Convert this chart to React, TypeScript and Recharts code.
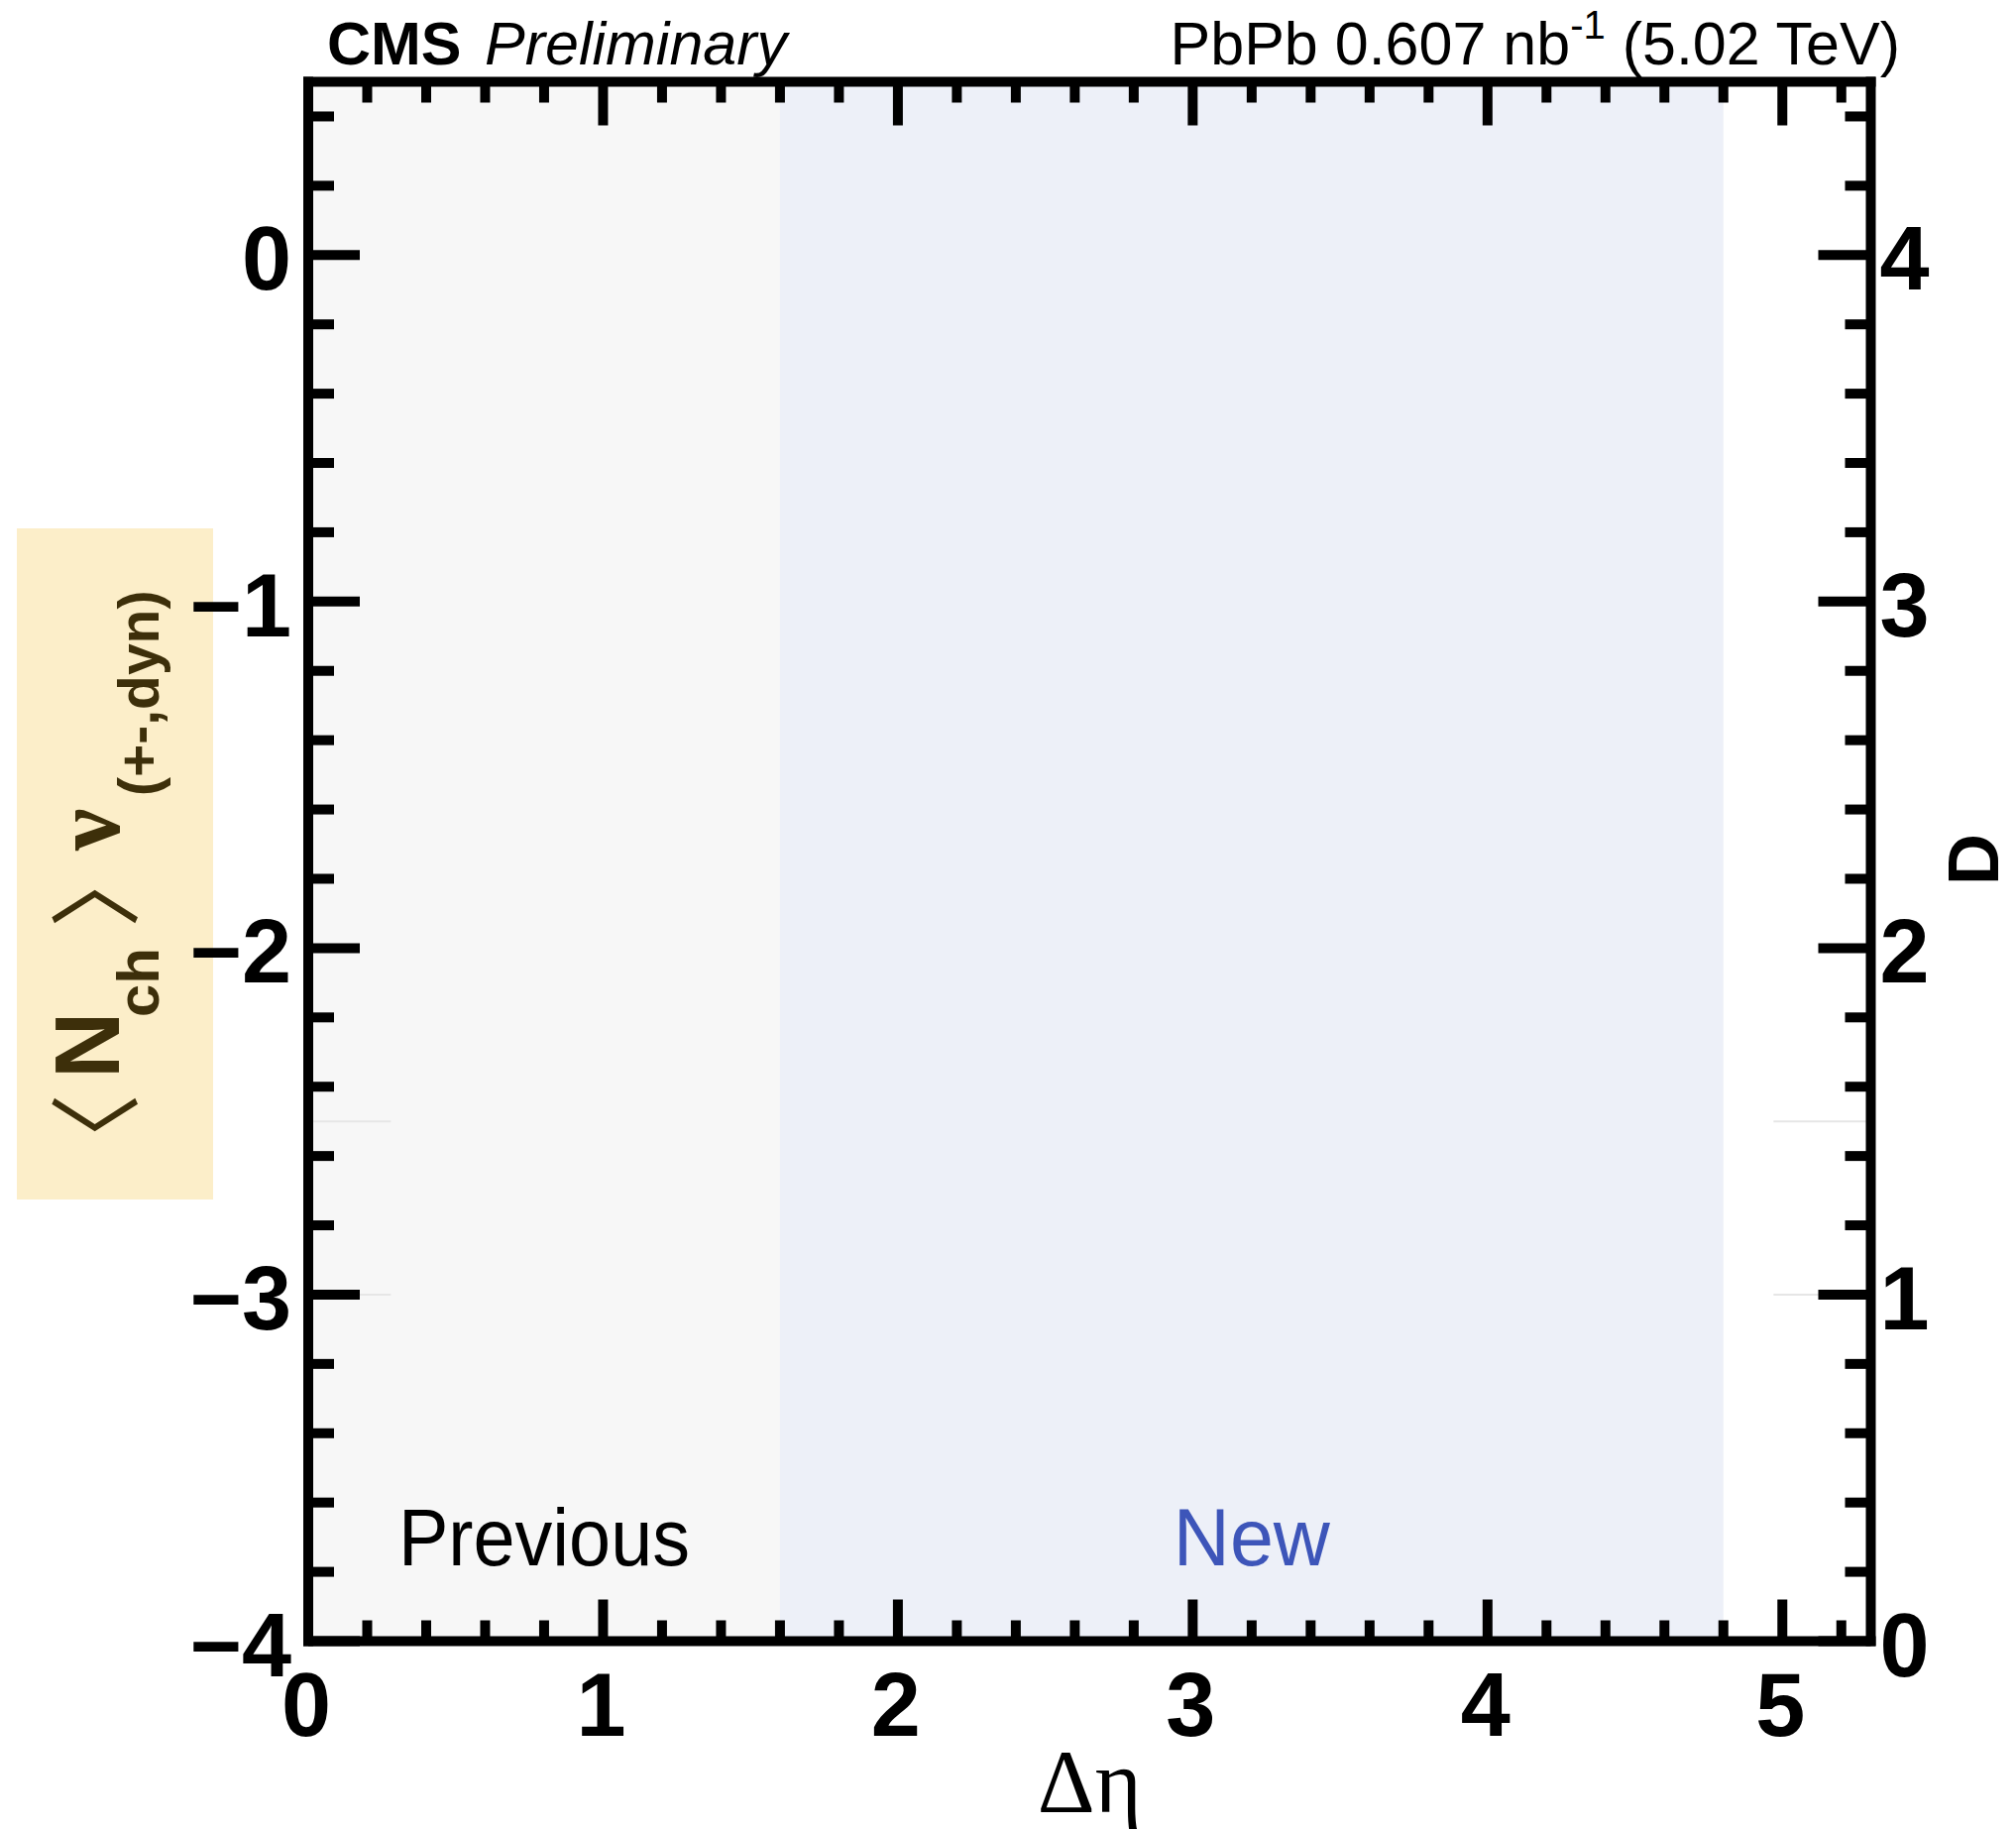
import { ComposedChart, XAxis, YAxis, ReferenceArea, ReferenceLine, Scatter } from "recharts";

const SANS = "'Liberation Sans', Arial, Helvetica, sans-serif";
const SERIF = "'Liberation Serif', 'Times New Roman', serif";
const BRACKET = "'Noto Sans CJK JP', 'Noto Sans CJK SC', 'DejaVu Sans', sans-serif";

// Δη axis ticks (labels only on integers)
const etaTicks = [
  0, 0.2, 0.4, 0.6, 0.8, 1, 1.2, 1.4, 1.6, 1.8, 2, 2.2, 2.4, 2.6, 2.8, 3, 3.2, 3.4, 3.6, 3.8, 4, 4.2,
  4.4, 4.6, 4.8, 5, 5.2,
];
// left axis: <Nch> nu(+-,dyn)
const nuTicks = [
  -4, -3.8, -3.6, -3.4, -3.2, -3, -2.8, -2.6, -2.4, -2.2, -2, -1.8, -1.6, -1.4, -1.2, -1, -0.8, -0.6,
  -0.4, -0.2, 0, 0.2, 0.4,
];
// right axis: D
const dTicks = [
  0, 0.2, 0.4, 0.6, 0.8, 1, 1.2, 1.4, 1.6, 1.8, 2, 2.2, 2.4, 2.6, 2.8, 3, 3.2, 3.4, 3.6, 3.8, 4, 4.2,
  4.4,
];

// Δη ranges of the previous and new measurements
const regionNames = ["Previous", "New"];
const regionFrom = [0, 1.6];
const regionTo = [1.6, 4.8];
const regionFill = ["#f7f7f7", "#edf0f8"];
const regionText = ["#000000", "#3d55b9"];

// faint leftover guide stubs near the frame
const stubLevels = [-2.5, -3];

const frame = { stroke: "#000", strokeWidth: 10, strokeLinecap: "square" as const };

const isMajor = (v: number) => Math.abs(v - Math.round(v)) < 1e-6;
const fmt = (v: number) => {
  const n = Math.round(v);
  return n < 0 ? `\u2212${Math.abs(n)}` : `${n}`;
};

function BottomTick(p: any) {
  const { x, y, payload } = p;
  const major = isMajor(payload.value);
  return (
    <g>
      <line x1={x} y1={y} x2={x} y2={y - (major ? 42 : 21)} stroke="#000" strokeWidth={10} />
      {major && (
        <text x={x - 2} y={y + 95} textAnchor="middle" fontFamily={SANS} fontWeight="bold" fontSize={90} fill="#000">
          {fmt(payload.value)}
        </text>
      )}
    </g>
  );
}

function TopTick(p: any) {
  const { x, y, payload } = p;
  const major = isMajor(payload.value);
  return <line x1={x} y1={y} x2={x} y2={y + (major ? 44 : 21)} stroke="#000" strokeWidth={10} />;
}

function LeftTick(p: any) {
  const { x, y, payload } = p;
  const major = isMajor(payload.value);
  return (
    <g>
      <line x1={x} y1={y} x2={x + (major ? 52 : 26)} y2={y} stroke="#000" strokeWidth={10} />
      {major && (
        <text x={x - 17} y={y + 35} textAnchor="end" fontFamily={SANS} fontWeight="bold" fontSize={90} fill="#000">
          {fmt(payload.value)}
        </text>
      )}
    </g>
  );
}

function RightTick(p: any) {
  const { x, y, payload } = p;
  const major = isMajor(payload.value);
  return (
    <g>
      <line x1={x} y1={y} x2={x - (major ? 53 : 26)} y2={y} stroke="#000" strokeWidth={10} />
      {major && (
        <text x={x + 9} y={y + 35} textAnchor="start" fontFamily={SANS} fontWeight="bold" fontSize={90} fill="#000">
          {fmt(payload.value)}
        </text>
      )}
    </g>
  );
}

function EtaTitle(p: any) {
  const vb = p.viewBox;
  return (
    <text x={vb.x + vb.width / 2} y={vb.y + 172} textAnchor="middle" fontFamily={SERIF} fontSize={90} fill="#000">
      Δη
    </text>
  );
}

function Header() {
  return (
    <g fill="#000">
      <text x={330} y={65} fontFamily={SANS} fontWeight="bold" fontSize={61}>
        CMS
      </text>
      <text x={489} y={65} fontFamily={SANS} fontStyle="italic" fontSize={61}>
        Preliminary
      </text>
      <text x={1917} y={65} textAnchor="end" fontFamily={SANS} fontSize={61}>
        PbPb 0.607 nb
        <tspan fontSize={40} dy={-26}>
          -1
        </tspan>
        <tspan dy={26}> (5.02 TeV)</tspan>
      </text>
    </g>
  );
}

// rotated title: x of a tspan is minus the screen y, y is the screen x
function NuTitle() {
  return (
    <g>
      <text transform="rotate(-90)" fontFamily={SANS} fontWeight="bold" fill="#000">
        <tspan x={-1196} y={131} fontFamily={BRACKET} fontWeight="normal" fontSize={93}>
          〈
        </tspan>
        <tspan x={-1088} y={120} fontSize={93}>
          N
        </tspan>
        <tspan x={-1026} y={160} fontSize={60}>
          ch
        </tspan>
        <tspan x={-936} y={131} fontFamily={BRACKET} fontWeight="normal" fontSize={93}>
          〉
        </tspan>
        <tspan x={-858} y={120} fontFamily={SERIF} fontWeight="bold" fontSize={95}>
          ν
        </tspan>
        <tspan x={-803} y={160} fontSize={57}>
          (+-,dyn)
        </tspan>
      </text>
      <rect x={17} y={533} width={198} height={677} fill="rgb(243,187,40)" fillOpacity={0.25} />
    </g>
  );
}

function DTitle() {
  return (
    <text
      x={2016}
      y={867}
      transform="rotate(-90 2016 867)"
      textAnchor="middle"
      fontFamily={SANS}
      fontWeight="bold"
      fontSize={72}
      fill="#000"
    >
      D
    </text>
  );
}

function RegionLabel(p: any, i: number) {
  const vb = p.viewBox;
  const widths = [294, 158];
  return (
    <text
      x={vb.x + vb.width / 2}
      y={vb.y + vb.height - 77}
      textAnchor="middle"
      fontFamily={SANS}
      fontSize={82}
      textLength={widths[i]}
      lengthAdjust="spacingAndGlyphs"
      fill={regionText[i]}
    >
      {regionNames[i]}
    </text>
  );
}

export default function App() {
  return (
    <div style={{ position: "absolute", left: 0, top: 0, width: 2034, height: 1845, background: "#fff" }}>
      <ComposedChart width={2034} height={1845} data={[]} margin={{ top: 0, right: 0, bottom: 0, left: 0 }}>
        {regionNames.map((name, i) => (
          <ReferenceArea
            key={name}
            xAxisId="eta"
            yAxisId="nu"
            x1={regionFrom[i]}
            x2={regionTo[i]}
            fill={regionFill[i]}
            fillOpacity={1}
            stroke="none"
            ifOverflow="hidden"
            label={(p: any) => RegionLabel(p, i)}
          />
        ))}
        {stubLevels.map((lv) => (
          <ReferenceLine
            key={`l${lv}`}
            xAxisId="eta"
            yAxisId="nu"
            segment={[
              { x: 0, y: lv },
              { x: 0.28, y: lv },
            ]}
            stroke="#e6e6e6"
            strokeWidth={2}
          />
        ))}
        {stubLevels.map((lv) => (
          <ReferenceLine
            key={`r${lv}`}
            xAxisId="eta"
            yAxisId="nu"
            segment={[
              { x: 4.97, y: lv },
              { x: 5.3, y: lv },
            ]}
            stroke="#e6e6e6"
            strokeWidth={2}
          />
        ))}
        <XAxis
          xAxisId="eta"
          type="number"
          dataKey="x"
          domain={[0, 5.3]}
          ticks={etaTicks}
          interval={0}
          allowDataOverflow
          height={189.5}
          tickSize={0}
          tickMargin={0}
          tickLine={false}
          axisLine={frame}
          tick={(p: any) => <BottomTick {...p} />}
          label={{ content: (p: any) => <EtaTitle {...p} /> }}
        />
        <XAxis
          xAxisId="etaTop"
          orientation="top"
          type="number"
          dataKey="x"
          domain={[0, 5.3]}
          ticks={etaTicks}
          interval={0}
          allowDataOverflow
          height={82.5}
          tickSize={0}
          tickMargin={0}
          tickLine={false}
          axisLine={frame}
          tick={(p: any) => <TopTick {...p} />}
          label={{ content: () => <Header /> }}
        />
        <YAxis
          yAxisId="nu"
          type="number"
          dataKey="y"
          domain={[-4, 0.5]}
          ticks={nuTicks}
          interval={0}
          allowDataOverflow
          width={311}
          tickSize={0}
          tickMargin={0}
          tickLine={false}
          axisLine={frame}
          tick={(p: any) => <LeftTick {...p} />}
          label={{ content: () => <NuTitle /> }}
        />
        <YAxis
          yAxisId="d"
          orientation="right"
          type="number"
          dataKey="d"
          domain={[0, 4.5]}
          ticks={dTicks}
          interval={0}
          allowDataOverflow
          width={146.5}
          tickSize={0}
          tickMargin={0}
          tickLine={false}
          axisLine={frame}
          tick={(p: any) => <RightTick {...p} />}
          label={{ content: () => <DTitle /> }}
        />
        <Scatter xAxisId="eta" yAxisId="nu" data={[]} isAnimationActive={false} />
      </ComposedChart>
    </div>
  );
}
